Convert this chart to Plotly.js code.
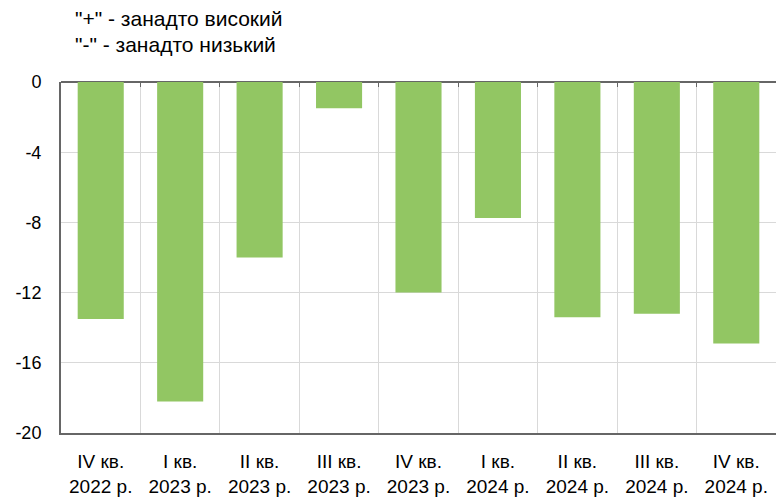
<!DOCTYPE html>
<html>
<head>
<meta charset="utf-8">
<script src="https://cdn.plot.ly/plotly-3.0.1.min.js"></script>
<style>html,body{margin:0;padding:0;background:#fff;}#chart{width:776px;height:498px;}</style>
</head>
<body>
<div id="chart"></div>
<script>
const quarters = ["IV кв.", "I кв.", "II кв.", "III кв.", "IV кв.", "I кв.", "II кв.", "III кв.", "IV кв."];
const years = ["2022 р.", "2023 р.", "2023 р.", "2023 р.", "2023 р.", "2024 р.", "2024 р.", "2024 р.", "2024 р."];
const values = [-13.5, -18.2, -10.0, -1.5, -12.0, -7.75, -13.4, -13.2, -14.9];
const yTicks = [0, -4, -8, -12, -16, -20];
const noteLines = ['"+" - занадто високий', '"-" - занадто низький'];

const labels = quarters.map((q, i) => q + "<br>" + years[i]);
const fam = "Liberation Sans, Arial, sans-serif";
const font = {family: fam, size: 18, color: "#000"};

const trace = {
  type: "bar",
  x: labels.map((l, i) => i),
  y: values,
  marker: {color: "#92c663"},
  width: 0.58,
  hoverinfo: "y"
};

const layout = {
  width: 776, height: 498,
  margin: {l: 61, r: 0, t: 82, b: 65},
  paper_bgcolor: "#fff", plot_bgcolor: "#fff",
  font: font,
  showlegend: false,
  xaxis: {
    type: "linear",
    range: [-0.5, values.length - 0.5],
    tickvals: labels.map((l, i) => i),
    ticktext: labels,
    ticks: "",
    ticklabelstandoff: 10,
    showgrid: false,
    zeroline: false,
    showline: true,
    linecolor: "#666", linewidth: 2,
    tickfont: {family: fam, size: 19, color: "#000"},
    fixedrange: true
  },
  xaxis2: {
    overlaying: "x",
    range: [-0.5, values.length - 0.5],
    tickvals: labels.map((l, i) => i + 0.5).slice(0, values.length - 1),
    showticklabels: false,
    showgrid: true, gridcolor: "#d9d9d9", gridwidth: 1,
    ticks: "inside", ticklen: 5, tickcolor: "#666", tickwidth: 1,
    side: "top",
    zeroline: false, showline: false,
    anchor: "y"
  },
  yaxis: {
    range: [-20, 0],
    tickvals: yTicks,
    ticktext: yTicks.map(String),
    showgrid: true, gridcolor: "#d9d9d9", gridwidth: 1,
    zeroline: true, zerolinecolor: "#666", zerolinewidth: 2,
    showline: true, linecolor: "#666", linewidth: 2,
    ticks: "", ticklabelstandoff: 14,
    tickfont: font,
    fixedrange: true
  },
  annotations: noteLines.map((t, i) => ({
    text: t, xref: "paper", yref: "paper",
    x: 0, xanchor: "left",
    y: 1, yanchor: "middle",
    showarrow: false, font: {family: fam, size: 21, color: "#000"}
  }))
};
const plotH = 498 - 82 - 65, plotW = 776 - 61;
layout.annotations.forEach((a, i) => {
  a.x = (73 - 61) / plotW;
  a.y = (498 - 65 - (19 + 25 * i)) / plotH;
});

const gridTrace = {type: "scatter", x: [], y: [], xaxis: "x2", yaxis: "y", hoverinfo: "skip"};

Plotly.newPlot("chart", [gridTrace, trace], layout, {displayModeBar: false, staticPlot: true});
</script>
</body>
</html>
